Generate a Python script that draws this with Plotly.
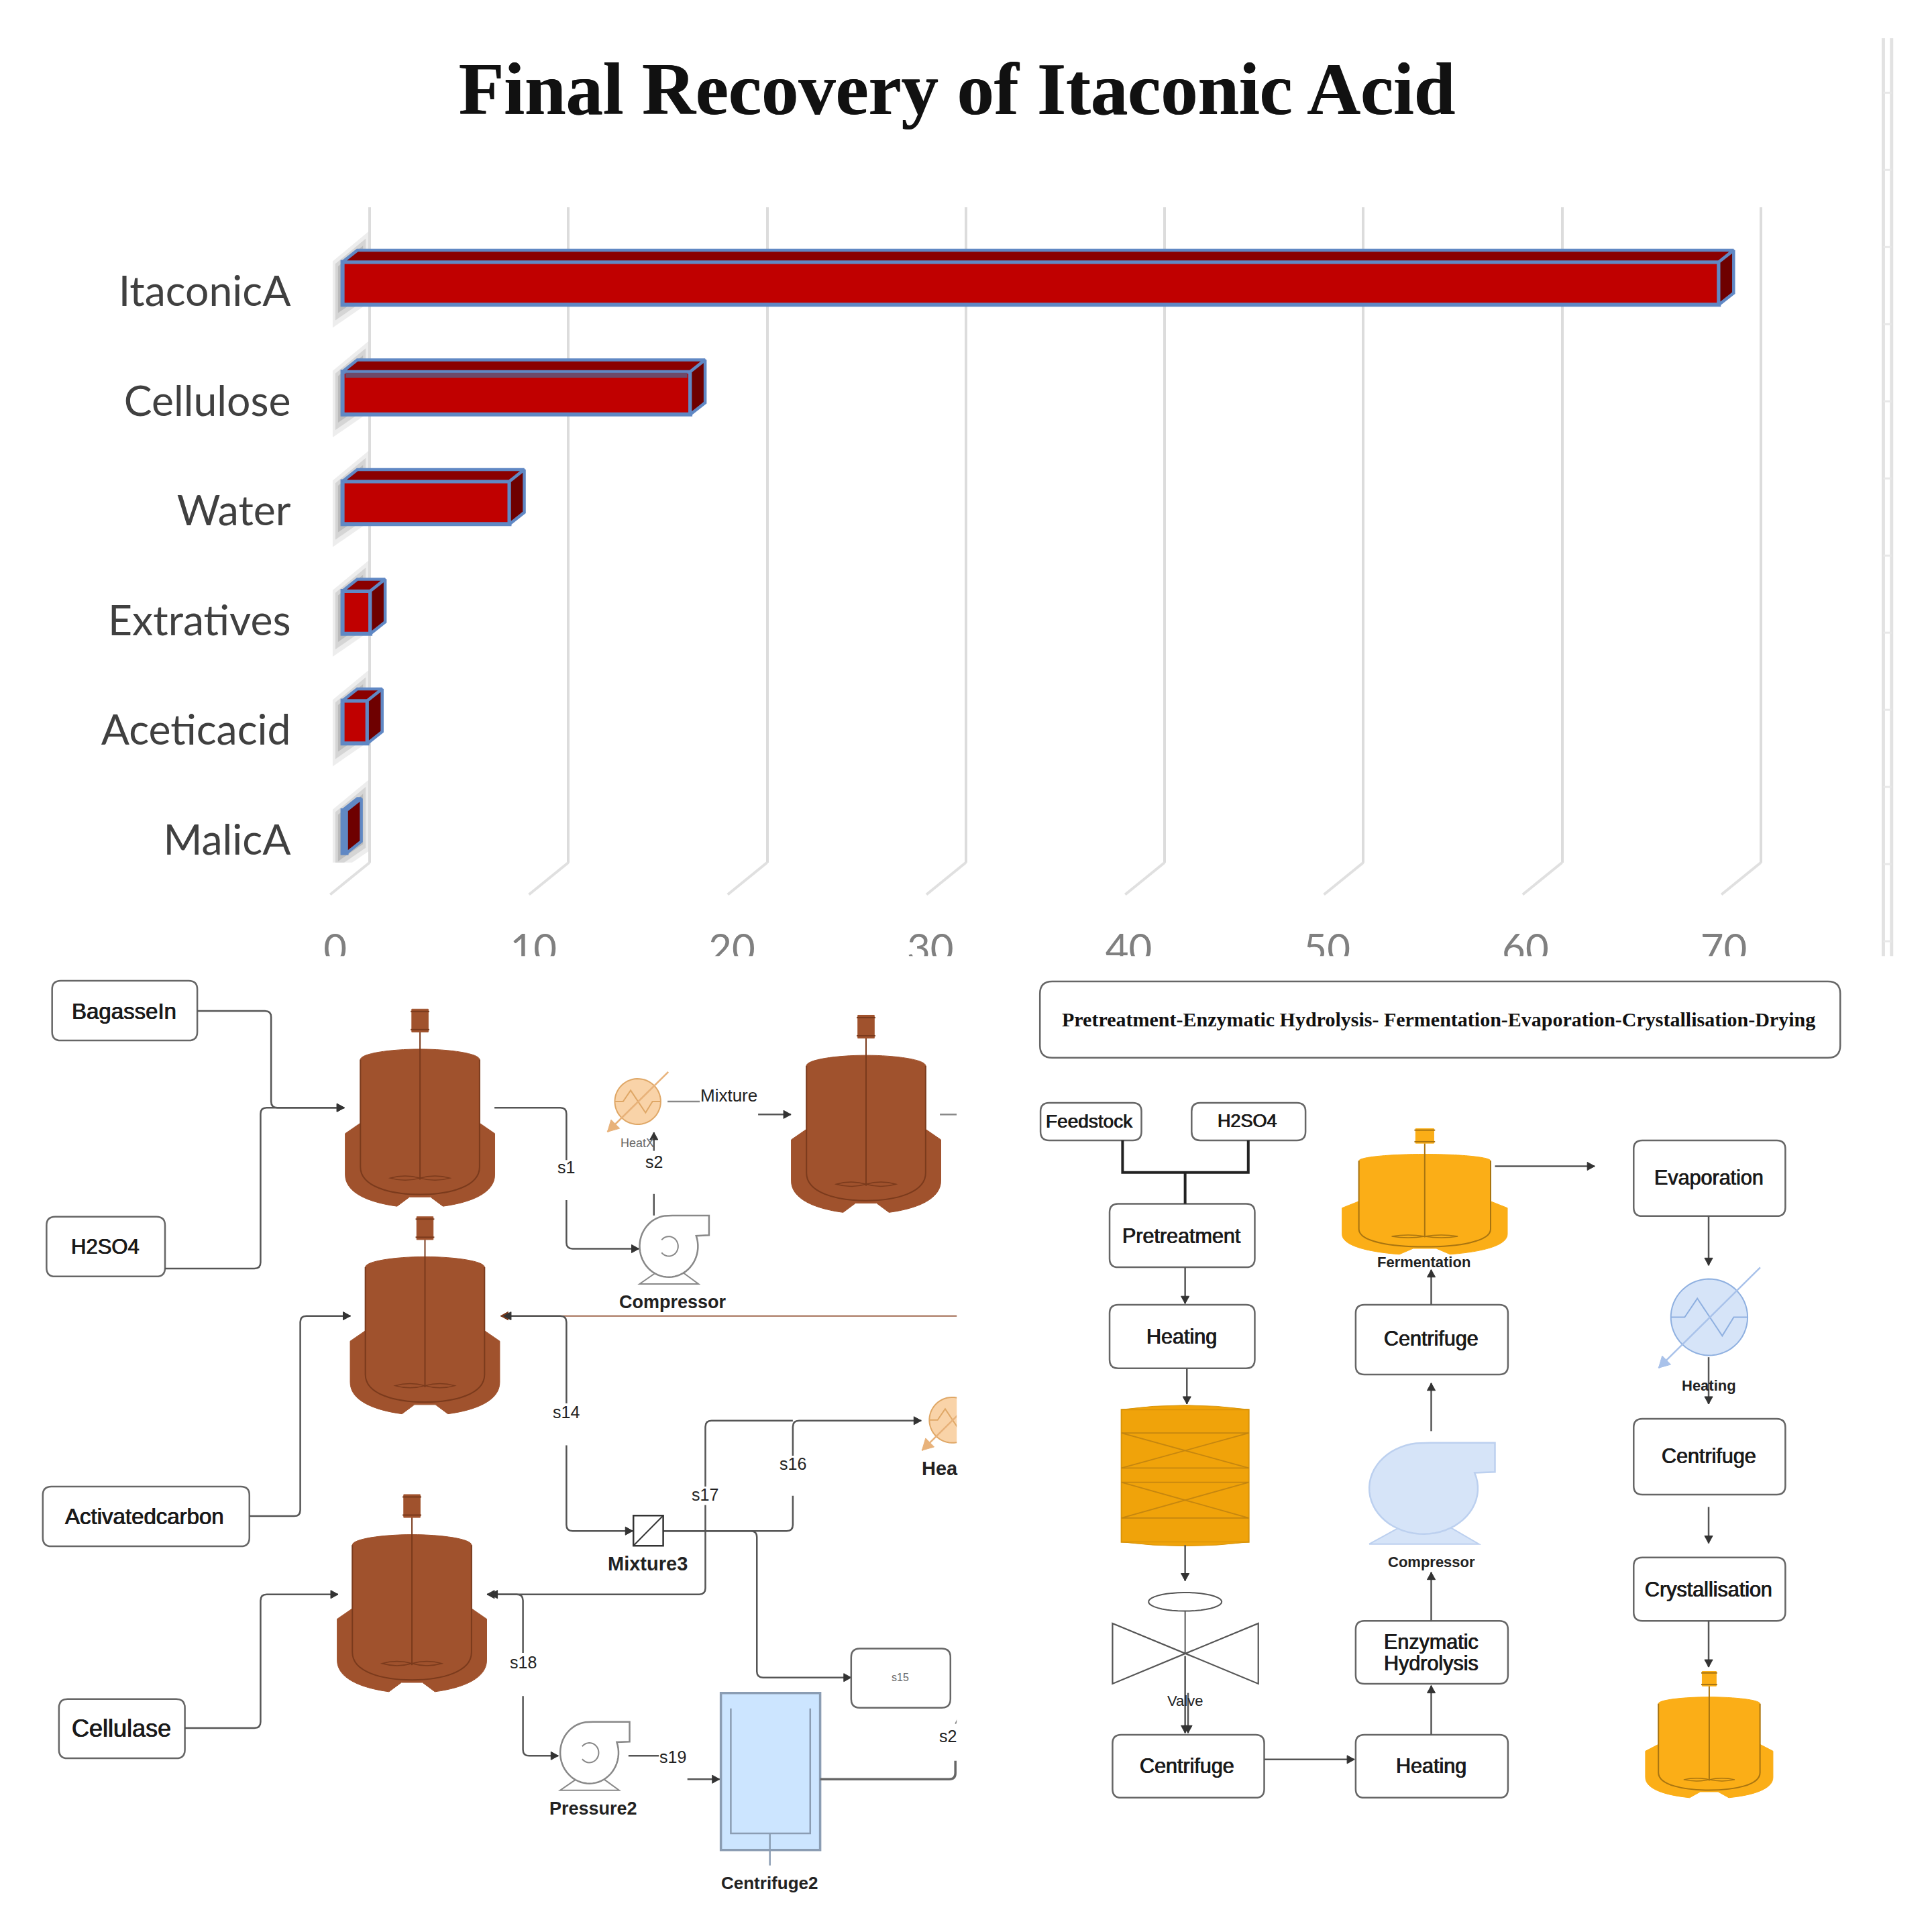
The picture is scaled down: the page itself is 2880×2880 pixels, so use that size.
import numpy as np
import plotly.graph_objects as go

# ---------- chart data ----------
categories = ["ItaconicA", "Cellulose", "Water", "Extratives", "Aceticacid", "MalicA"]
values = [69.25, 17.5, 8.4, 1.4, 1.25, 0.2]
x_ticks = [0, 10, 20, 30, 40, 50, 60, 70]
title_text = "Final Recovery of Itaconic Acid"

left_boxes = [
    ("BagasseIn", 84, 24, 318, 121, 200, 73, 33),
    ("H2SO4", 75, 407, 266, 504, 170, 456, 31),
    ("Activatedcarbon", 69, 845, 402, 942, 233, 893, 33),
    ("Cellulase", 95, 1190, 298, 1286, 196, 1237, 36),
]
right_boxes = [
    ("Feedstock", 58, 222, 229, 283, 141, 252, 28),
    ("H2SO4", 314, 222, 507, 283, 409, 252, 27),
    ("Pretreatment", 175, 386, 421, 489, 297, 438, 30.5),
    ("Heating", 175, 550, 421, 653, 297, 602, 30.5),
    ("Centrifuge", 180, 1248, 437, 1350, 306, 1299, 30.5),
    ("Heating", 592, 1248, 850, 1350, 720, 1299, 30.5),
    ("", 592, 1063, 850, 1165, 720, 1114, 30.5),
    ("Centrifuge", 592, 550, 850, 663, 720, 605, 30.5),
    ("Evaporation", 1063, 283, 1320, 406, 1190, 344, 30.5),
    ("Centrifuge", 1063, 735, 1320, 858, 1190, 795, 30.5),
    ("Crystallisation", 1063, 960, 1320, 1063, 1190, 1012, 30.5),
]
# ---------- scales (D = 1568-unit page frame) ----------
PAGE = 1568.0
UNIT = 16.13          # D per value unit
LABEL_UNIT = 16.1
ROW = 89.0            # D per category
ROW0 = 230.0
BAR_X0, GRID_X0, LABEL_X0 = 278.0, 300.0, 272.0
BAR_H = 0.39
DX, DY = 12.0 / UNIT, 9.5 / ROW
idx = list(range(len(categories)))

L = lambda x, y: (x * 0.5035, 784 + y * 0.5)
R = lambda x, y: (816.7 + x * 0.479, 784 + y * 0.5)

fig = go.Figure()
# grid subplot (drawn first)
fig.add_trace(go.Scatter(x=values, y=idx, mode="markers", marker=dict(opacity=0), hoverinfo="skip",
                         showlegend=False, xaxis="x", yaxis="y"))
# soft shading along the wall, one band per category (nested layers fake the blur)
WALL = [(299, -42), (270, -18), (270, 36), (299, 16)]
for a, c in ((1.0, "rgba(215,215,215,0.45)"), (0.85, "rgba(190,190,190,0.5)"),
             (0.7, "rgba(165,165,165,0.55)"), (0.55, "rgba(140,140,140,0.6)")):
    sx, sy = [], []
    for i in idx:
        pts = [(284.5 + (p[0] - 284.5) * a, -4 + (p[1] + 4) * a) for p in WALL]
        sx += [(p[0] - GRID_X0) / UNIT for p in pts] + [None]
        sy += [i + p[1] / ROW for p in pts] + [None]
    fig.add_trace(go.Scatter(x=sx, y=sy, mode="lines", fill="toself", fillcolor=c, line=dict(width=0),
                             hoverinfo="skip", showlegend=False, xaxis="x", yaxis="y", cliponaxis=False))

# bars: front face
fig.add_trace(go.Bar(y=idx, x=values, orientation="h", width=BAR_H, xaxis="x2", yaxis="y2",
                     marker=dict(color="#c00000", line=dict(color="#6088c4", width=6)),
                     hoverinfo="skip", showlegend=False))
# bars: top and side faces derived from values
tx, ty, sx, sy = [], [], [], []
for i, v in zip(idx, values):
    t, b = i - BAR_H / 2, i + BAR_H / 2
    tx += [0, v, v + DX, DX, 0, None]
    ty += [t, t, t - DY, t - DY, t, None]
    sx += [v, v + DX, v + DX, v, v, None]
    sy += [t, t - DY, b - DY, b, t, None]
for xs, ys, col in ((tx, ty, "#8a0000"), (sx, sy, "#6e0000")):
    fig.add_trace(go.Scatter(x=xs, y=ys, mode="lines", fill="toself", fillcolor=col,
                             line=dict(color="#6088c4", width=4.5), hoverinfo="skip", showlegend=False,
                             xaxis="x2", yaxis="y2"))
# the muted stripe on the Cellulose bar's top edge
j = categories.index("Cellulose")
t = idx[j] - BAR_H / 2
fig.add_trace(go.Scatter(x=[0.15, values[j] - 0.15, values[j] - 0.15, 0.15], y=[t + 0.01, t + 0.01, t + 0.055, t + 0.055],
                         mode="lines", fill="toself", fillcolor="#6e4a6a", line=dict(width=0), hoverinfo="skip",
                         showlegend=False, xaxis="x2", yaxis="y2"))
# floor diagonals
fx, fy = [], []
for k in x_ticks:
    fx += [k + (GRID_X0 - BAR_X0) / UNIT, k + (GRID_X0 - 32 - BAR_X0) / UNIT, None]
    fy += [(700 - ROW0) / ROW, (726 - ROW0) / ROW, None]
fig.add_trace(go.Scatter(x=fx, y=fy, mode="lines", line=dict(color="#e0e0e0", width=4), hoverinfo="skip",
                         showlegend=False, xaxis="x2", yaxis="y2"))
# label axes
fig.add_trace(go.Scatter(x=values, y=idx, mode="markers", marker=dict(opacity=0), hoverinfo="skip",
                         showlegend=False, xaxis="x3", yaxis="y3"))
fig.add_trace(go.Scatter(x=[0], y=[0], mode="markers", marker=dict(opacity=0), hoverinfo="skip",
                         showlegend=False, xaxis="x4", yaxis="y4"))

# ---------- diagram helpers ----------
shapes, notes = [], []
def path(d, fill=None, color="#555", width=2.5, dash=None):
    ln = dict(color=color, width=width)
    if dash: ln["dash"] = dash
    s = dict(type="path", path=d, xref="x4", yref="y4", line=ln, layer="above")
    if fill: s["fillcolor"] = fill
    shapes.append(s)
def pts2d(pts, close=False):
    d = "M" + " L".join(f"{x:.2f},{y:.2f}" for x, y in pts)
    return d + (" Z" if close else "")
def rrect(F, x0, y0, x1, y1, r=7, fill="#ffffff", color="#666", width=2.5):
    (a, b), (c, e) = F(x0, y0), F(x1, y1)
    d = (f"M{a+r},{b} L{c-r},{b} Q{c},{b} {c},{b+r} L{c},{e-r} Q{c},{e} {c-r},{e} "
         f"L{a+r},{e} Q{a},{e} {a},{e-r} L{a},{b+r} Q{a},{b} {a+r},{b} Z")
    path(d, fill, color, width)
def head(p, q, color="#333", size=6.0):
    ux, uy = q[0] - p[0], q[1] - p[1]
    n = (ux ** 2 + uy ** 2) ** 0.5 or 1
    ux, uy = ux / n, uy / n
    a = (q[0] - ux * size - uy * size * 0.55, q[1] - uy * size + ux * size * 0.55)
    b = (q[0] - ux * size + uy * size * 0.55, q[1] - uy * size - ux * size * 0.55)
    path(pts2d([q, a, b], True), color, color, 1)
def conn(F, raw, arrow=True, color="#555", width=2.5, r=5, headc=None):
    P = [F(*p) for p in raw]
    d = f"M{P[0][0]:.2f},{P[0][1]:.2f}"
    for i in range(1, len(P) - 1):
        p, c, n = np.array(P[i - 1]), np.array(P[i]), np.array(P[i + 1])
        a = c - (c - p) / np.linalg.norm(c - p) * r
        b = c + (n - c) / np.linalg.norm(n - c) * r
        d += f" L{a[0]:.2f},{a[1]:.2f} Q{c[0]:.2f},{c[1]:.2f} {b[0]:.2f},{b[1]:.2f}"
    d += f" L{P[-1][0]:.2f},{P[-1][1]:.2f}"
    path(d, None, color, width)
    if arrow:
        head(P[-2], P[-1], headc or "#333")
HEAVY = "0.5px 0 0 #222, -0.4px 0 0 #222"
def text(F, x, y, s, size=27, color="#1a1a1a", bold=False, family="Liberation Sans", heavy=True):
    X, Y = F(x, y)
    fnt = dict(size=size, color=color, family=family)
    if heavy and not bold:
        fnt["shadow"] = HEAVY
    notes.append(dict(x=X, y=Y, xref="x4", yref="y4", text=("<b>%s</b>" % s if bold else s), showarrow=False,
                      xanchor="center", yanchor="middle", font=fnt))
def reactor(F, cx, top, hw, h, fill, line):
    U = lambda u, v: F(cx + u * hw, top + v * h)
    f = lambda u, v: "%.2f,%.2f" % U(u, v)
    d = (f"M{f(-.797,.256)} C{f(-.797,.225)} {f(-.4,.203)} {f(0,.203)} C{f(.4,.203)} {f(.797,.225)} {f(.797,.256)} "
         f"L{f(.797,.578)} L{f(1,.631)} L{f(1,.84)} C{f(1,.93)} {f(.7,.98)} {f(.307,1)} L{f(.14,.953)} L{f(-.14,.953)} "
         f"L{f(-.307,1)} C{f(-.7,.98)} {f(-1,.93)} {f(-1,.84)} L{f(-1,.631)} L{f(-.797,.578)} Z")
    path(d, fill, fill, 1)
    d = f"M{f(-.797,.256)} L{f(-.797,.80)} C{f(-.797,.9)} {f(-.4,.94)} {f(0,.94)} C{f(.4,.94)} {f(.797,.9)} {f(.797,.80)} L{f(.797,.256)}"
    path(d, None, line, 2)
    path(f"M{f(0,.116)} L{f(0,.865)}", None, line, 2)
    for s in (-1, 1):
        c = s * .2
        d = f"M{f(c-.2,.857)} Q{f(c,.835)} {f(c+.2,.857)} Q{f(c,.879)} {f(c-.2,.857)} Z"
        path(d, None, line, 1.5)
    path(pts2d([U(-.11, 0), U(.11, 0), U(.11, .116), U(-.11, .116)], True), fill, fill, 1)
    for v in (0.012, 0.104):
        path(pts2d([U(-.125, v), U(.125, v)]), None, line, 2)
def exchanger(F, cx, cy, rx, ry, fill, line, arrowc, lw=2):
    ang = np.linspace(0, 2 * np.pi, 60)
    path(pts2d([F(cx + rx * np.cos(a), cy + ry * np.sin(a)) for a in ang], True), fill, line, lw)
    z = [(-1, 0), (-.64, 0), (-.31, -.49), (.34, .49), (.64, 0), (1, 0)]
    path(pts2d([F(cx + rx * u, cy + ry * v) for u, v in z]), None, line, lw)
    a, b = F(cx + 1.33 * rx, cy - 1.3 * ry), F(cx - 1.32 * rx, cy + 1.33 * ry)
    path(pts2d([a, b]), None, arrowc, lw + .5)
    head(a, b, arrowc, 9)
def pump(F, cx, cy, rx, ry, fill, line, spiral=True, out=1.38):
    path(pts2d([F(cx - 1.0 * rx, cy + 1.22 * ry), F(cx + 1.02 * rx, cy + 1.22 * ry), F(cx + .47 * rx, cy + .84 * ry),
                F(cx - .42 * rx, cy + .84 * ry)], True), fill, line, 2)
    ang = np.radians(np.linspace(-20, 262, 50))
    P = [F(cx + out * rx, cy - ry), F(cx + out * rx, cy - .36 * ry)]
    P += [F(cx + rx * np.cos(a), cy + ry * np.sin(a)) for a in ang]
    P += [F(cx + .12 * rx, cy - ry)]
    path(pts2d(P, True), fill, line, 2.5)
    if spiral:
        a2 = np.radians(np.linspace(-140, 140, 30))
        path(pts2d([F(cx + .32 * rx * np.cos(a), cy + .32 * ry * np.sin(a)) for a in a2]), None, line, 2)

# mask clipping the x tick labels
shapes.append(dict(type="rect", xref="x4", yref="y4", x0=0, x1=PAGE, y0=776, y1=792, fillcolor="white",
                   line=dict(width=0), layer="above"))
# side rail at the right of the chart
shapes_rail = (1528.5, 1535.2)
for xr_ in shapes_rail:
    shapes.append(dict(type="line", xref="x4", yref="y4", x0=xr_, x1=xr_, y0=31, y1=776,
                       line=dict(color="#e2e2e2", width=5), layer="above"))
for yr in np.arange(75.3, 776, 62.6):
    shapes.append(dict(type="line", xref="x4", yref="y4", x0=1528.5, x1=1535.2, y0=yr, y1=yr,
                       line=dict(color="#e8e8e8", width=3), layer="above"))

# ---------- left flow sheet ----------
BROWN, BROWNL = "#a0522d", "#7a3a1c"
for cx, top in ((677, 70), (1396, 80), (685, 407), (664, 858)):
    reactor(L, cx, top, 120.5, 320, BROWN, BROWNL)
for b in left_boxes:
    rrect(L, *b[1:5])
    text(L, b[5], b[6], b[0], b[7])
conn(L, [(318, 73), (437, 73), (437, 230), (555, 230)])
conn(L, [(266, 491), (420, 491), (420, 230), (555, 230)])
conn(L, [(797, 230), (913, 230), (913, 315)], False)
conn(L, [(913, 380), (913, 459), (1030, 459)])
conn(L, [(1054, 370), (1054, 405)], False)
conn(L, [(1054, 300), (1054, 270)])
conn(L, [(1076, 220), (1128, 220)], False, "#888")
conn(L, [(1222, 241), (1275, 241)])
conn(L, [(1515, 241), (1542, 241)], False, "#888")
conn(L, [(1545, 568), (807, 568)], True, "#a06a50", 2, headc="#7a3a1c")
conn(L, [(913, 710), (913, 568), (812, 568)], True, "#555")
conn(L, [(913, 778), (913, 917), (1020, 917)])
conn(L, [(402, 893), (484, 893), (484, 568), (565, 568)])
conn(L, [(1069, 917), (1278, 917), (1278, 860)], False)
conn(L, [(1278, 795), (1278, 738), (1485, 738)])
conn(L, [(1137, 845), (1137, 738), (1278, 738)], False)
conn(L, [(1137, 875), (1137, 1020), (785, 1020)])
conn(L, [(1069, 917), (1220, 917), (1220, 1155), (1372, 1155)])
conn(L, [(298, 1237), (420, 1237), (420, 1020), (545, 1020)])
conn(L, [(843, 1115), (843, 1020), (790, 1020)], True)
conn(L, [(843, 1185), (843, 1282), (900, 1282)])
conn(L, [(1013, 1282), (1062, 1282)], False)
conn(L, [(1108, 1320), (1160, 1320)])
exchanger(L, 1028, 220, 37, 37, "#f9d3a8", "#dfa766", "#e8b27a")
exchanger(L, 1535, 737, 37, 37, "#f9d3a8", "#dfa766", "#e8b27a")
pump(L, 1078, 455, 47, 50, "#ffffff", "#888888")
pump(L, 950, 1277, 47, 50, "#ffffff", "#888888")
path(pts2d([L(1021, 892), L(1069, 892), L(1069, 941), L(1021, 941)], True), "#ffffff", "#333", 2.5)
path(pts2d([L(1021, 941), L(1069, 892)]), None, "#333", 2)
rrect(L, 1372, 1108, 1532, 1204)
text(L, 1451, 1155, "s15", 16, "#666", heavy=False)
path(pts2d([L(1162, 1180), L(1322, 1180), L(1322, 1435), L(1162, 1435)], True), "#cce5ff", "#8b9db3", 3.5)
path(pts2d([L(1178, 1205), L(1178, 1408), L(1306, 1408), L(1306, 1205)]), None, "#8b9db3", 2.5)
conn(L, [(1241, 1408), (1241, 1460)], False, "#8b9db3")
conn(L, [(1322, 1320), (1540, 1320), (1540, 1290)], False, "#666", 3.5)
conn(L, [(1545, 1220), (1540, 1230)], False, "#888", 2)
# mask for the cropped left panel
shapes.append(dict(type="rect", xref="x4", yref="y4", x0=776.5, x1=840, y0=784, y1=PAGE, fillcolor="white",
                   line=dict(width=0), layer="above"))
for x, y, s, size, bold in [
    (913, 327, "s1", 25, False), (1054, 318, "s2", 25, False), (1175, 210, "Mixture", 26, False),
    (1085, 546, "Compressor", 27, True), (913, 724, "s14", 25, False), (1278, 808, "s16", 25, False),
    (1136, 858, "s17", 25, False), (1044, 970, "Mixture3", 29, True), (843, 1130, "s18", 25, False),
    (1085, 1284, "s19", 25, False), (956, 1368, "Pressure2", 27, True), (1240, 1488, "Centrifuge2", 26, True),
    (1515, 816, "Hea", 29, True), (1528, 1250, "s2", 25, False),
]:
    text(L, x, y, s, size, bold=bold, heavy=False, color="#222")
text(L, 1027, 288, "HeatX", 18, "#666", heavy=False)

# ---------- right flow sheet ----------
rrect(R, 57, 25, 1413, 149, r=10)
text(R, 733, 87, "Pretreatment-Enzymatic Hydrolysis- Fermentation-Evaporation-Crystallisation-Drying", 30,
     "#111", True, "Liberation Serif")
for b in right_boxes:
    rrect(R, *b[1:5])
    if b[0]:
        text(R, b[5], b[6], b[0], b[7])
text(R, 720, 1097, "Enzymatic", 30.5)
text(R, 720, 1132, "Hydrolysis", 30.5)
ORANGE, ORANGED = "#fbae17", "#a87410"
reactor(R, 709, 264, 140, 204, ORANGE, ORANGED)
reactor(R, 1191, 1145, 108, 205, ORANGE, ORANGED)
# packed drum
path(pts2d([R(195, 720), R(411, 720), R(411, 935), R(195, 935)], True), "#f0a30a", "#d99409", 2)
path(f"M{'%.2f,%.2f' % R(195,720)} Q{'%.2f,%.2f' % R(303,706)} {'%.2f,%.2f' % R(411,720)} Z", "#f0a30a", "#d99409", 1)
path(f"M{'%.2f,%.2f' % R(195,935)} Q{'%.2f,%.2f' % R(303,948)} {'%.2f,%.2f' % R(411,935)} Z", "#f0a30a", "#d99409", 1)
for y0, y1 in ((758, 815), (838, 896)):
    for a, b, c, e in ((195, y0, 411, y0), (195, y1, 411, y1), (195, y0, 411, y1), (195, y1, 411, y0)):
        path(pts2d([R(a, b), R(c, e)]), None, "#c5860f", 1.8)
# valve
ang = np.linspace(0, 2 * np.pi, 40)
path(pts2d([R(303 + 62 * np.cos(a), 1032 + 15 * np.sin(a)) for a in ang], True), "#ffffff", "#555", 2)
path(pts2d([R(180, 1067), R(427, 1165), R(427, 1067), R(180, 1165)], True), "#ffffff", "#555", 2.2)
path(pts2d([R(303, 1047), R(303, 1115)]), None, "#555", 2)
path(pts2d([R(197, 283), R(197, 335), R(410, 335), R(410, 283)]), None, "#222", 4)
path(pts2d([R(303, 335), R(303, 386)]), None, "#222", 4)
for raw in [[(303, 489), (303, 548)], [(306, 653), (306, 711)], [(303, 940), (303, 998)],
            [(303, 1120), (303, 1245)], [(308, 1180), (308, 1245)], [(437, 1288), (590, 1288)],
            [(720, 1248), (720, 1168)], [(720, 1063), (720, 984)], [(720, 755), (720, 677)],
            [(720, 550), (720, 493)], [(828, 325), (997, 325)], [(1190, 406), (1190, 486)],
            [(1190, 635), (1190, 711)], [(1190, 878), (1190, 937)], [(1190, 1063), (1190, 1138)]]:
    conn(R, raw)
pump(R, 707, 848, 92, 74, "#d6e4f8", "#bcd0ef", spiral=False, out=1.315)
exchanger(R, 1191, 570, 65, 62, "#d6e4f8", "#8fb0e0", "#a9c2ea", 2)
for x, y, s, size in [(708, 481, "Fermentation", 22), (720, 968, "Compressor", 22), (1190, 681, "Heating", 22)]:
    text(R, x, y, s, size, bold=True, color="#222")
text(R, 303, 1193, "Valve", 22, "#222", heavy=False)

# ---------- layout ----------
def xr(o, u=UNIT): return [-o / u, (PAGE - o) / u]
off = dict(visible=False, showgrid=False, zeroline=False)
fig.update_layout(
    width=2880, height=2880, margin=dict(l=0, r=0, t=0, b=0, pad=0), autosize=False,
    paper_bgcolor="white", plot_bgcolor="rgba(0,0,0,0)", showlegend=False, barmode="overlay",
    title=dict(text="<b>%s</b>" % title_text, x=776.5 / PAGE, y=1 - 71.5 / PAGE, xanchor="center", yanchor="middle",
               font=dict(family="Liberation Serif", size=110.5, color="#111111", shadow="0.8px 0 0 #111")),
    xaxis=dict(range=xr(GRID_X0), tickmode="array", tickvals=x_ticks, showticklabels=False, ticks="",
               showgrid=True, gridcolor="#dcdcdc", gridwidth=4, zeroline=False, showline=False, anchor="y"),
    yaxis=dict(domain=[1 - 700 / PAGE, 1 - 168 / PAGE], range=[(700 - ROW0) / ROW, (168 - ROW0) / ROW],
               showgrid=False, zeroline=False, showticklabels=False, ticks="", showline=False, anchor="x"),
    xaxis2=dict(range=xr(BAR_X0), anchor="y2", **off),
    yaxis2=dict(domain=[0, 1], range=[(PAGE - ROW0) / ROW, -ROW0 / ROW], anchor="x2", **off),
    xaxis3=dict(range=xr(LABEL_X0, LABEL_UNIT), tickmode="array", tickvals=x_ticks, showgrid=False, zeroline=False,
                ticks="", showline=False, anchor="free", position=1 - 748 / PAGE, side="bottom",
                tickfont=dict(family="Lato", size=60, color="#808080")),
    yaxis3=dict(domain=[0, 1], range=[(PAGE - ROW0 - 6.5) / ROW, -(ROW0 + 6.5) / ROW], tickmode="array", tickvals=idx,
                ticktext=categories, showgrid=False, zeroline=False, ticks="", showline=False, anchor="free",
                position=236 / PAGE, side="left", tickfont=dict(family="Lato", size=62.5, color="#404040")),
    xaxis4=dict(range=[0, PAGE], anchor="y4", **off),
    yaxis4=dict(domain=[0, 1], range=[PAGE, 0], anchor="x4", **off),
    shapes=shapes, annotations=notes,
)
fig.write_html("out.html", config=dict(displayModeBar=False), post_script="document.body.style.margin='0';")
